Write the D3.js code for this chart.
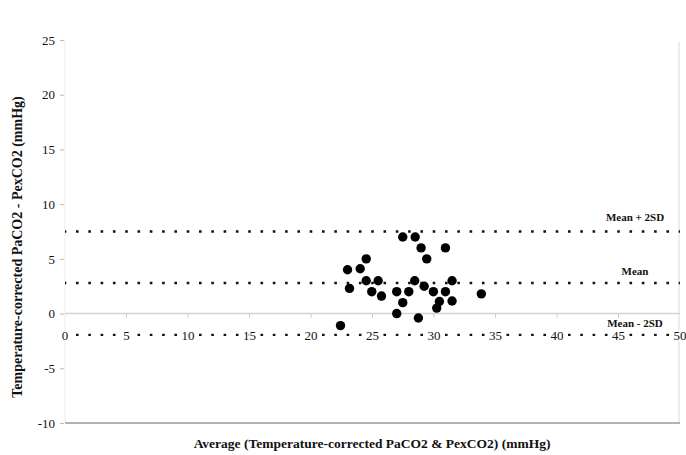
<!DOCTYPE html>
<html>
<head>
<meta charset="utf-8">
<script src="https://cdn.jsdelivr.net/npm/d3@7"></script>
<style>
  html, body { margin: 0; padding: 0; background: #fff; }
  svg { display: block; }
  text { font-family: "Liberation Serif", "Times New Roman", serif; fill: #111; }
</style>
</head>
<body>
<svg id="chart" width="686" height="455"></svg>
<script>
// Bland-Altman data: average of the two methods vs. their difference (mmHg)
const averages = [27.46, 28.47, 28.95, 30.93, 29.41, 24.49, 22.97, 24.0, 24.49, 25.46,
                  23.13, 24.94, 25.73, 26.97, 27.95, 28.43, 29.2, 29.95, 30.93, 31.47,
                  27.46, 30.44, 30.22, 31.47, 26.97, 28.73, 33.85, 22.4];
const differences = [7.0, 7.0, 6.0, 6.0, 5.0, 5.0, 4.0, 4.1, 3.0, 3.0,
                     2.3, 2.0, 1.6, 2.0, 2.0, 3.0, 2.5, 2.0, 2.0, 3.0,
                     1.0, 1.1, 0.5, 1.15, 0.0, -0.4, 1.8, -1.1];

// Limits of agreement
const limitNames = ["Mean + 2SD", "Mean", "Mean - 2SD"];
const limitValues = [7.5, 2.8, -1.95];

const xTicks = [0, 5, 10, 15, 20, 25, 30, 35, 40, 45, 50];
const yTicks = [-10, -5, 0, 5, 10, 15, 20, 25];

const xTitle = "Average (Temperature-corrected PaCO2 & PexCO2) (mmHg)";
const yTitle = "Temperature-corrected PaCO2 - PexCO2 (mmHg)";

const svg = d3.select("#chart");
const plotLeft = 65, plotRight = 680, plotTop = 40, plotBottom = 423;

const x = d3.scaleLinear().domain([0, 50]).range([plotLeft, plotRight]);
const y = d3.scaleLinear().domain([-10, 25]).range([plotBottom, plotTop]);

// faint frame sides
svg.append("line").attr("x1", plotLeft).attr("x2", plotLeft).attr("y1", y(25)).attr("y2", plotBottom)
  .attr("stroke", "#ececec").attr("stroke-width", 1);
svg.append("line").attr("x1", plotRight - 1).attr("x2", plotRight - 1).attr("y1", y(25) + 2).attr("y2", plotBottom)
  .attr("stroke", "#e6e6e6").attr("stroke-width", 1.5);

// bottom edge at -10
svg.append("line").attr("x1", plotLeft).attr("x2", plotRight).attr("y1", plotBottom).attr("y2", plotBottom)
  .attr("stroke", "#9a9a9a").attr("stroke-width", 1.5);

// y axis ticks and labels
const yAxis = d3.axisLeft(y).tickValues(yTicks).tickSize(4).tickPadding(5).tickFormat(d => String(d));
const gy = svg.append("g").attr("transform", `translate(${plotLeft - 1},0)`).call(yAxis);
gy.select(".domain").remove();
gy.selectAll(".tick line").attr("stroke", "#bbb");
gy.selectAll(".tick text").attr("font-size", 13).style("font-family", "'Liberation Serif', serif").attr("fill", "#1a1a1a");

// zero line with downward ticks
svg.append("line").attr("x1", plotLeft).attr("x2", plotRight).attr("y1", y(0)).attr("y2", y(0))
  .attr("stroke", "#d2d2d2").attr("stroke-width", 1.5);
svg.append("g").selectAll("line").data(xTicks.slice(1, -1)).join("line")
  .attr("x1", d => x(d)).attr("x2", d => x(d))
  .attr("y1", y(0)).attr("y2", y(0) + 4)
  .attr("stroke", "#c8c8c8").attr("stroke-width", 1);

// limit lines (dots fall on whole x units)
const period = x(1) - x(0);
const dotLen = 2.6;
svg.append("g").selectAll("line").data(limitValues).join("line")
  .attr("x1", plotLeft).attr("x2", plotRight)
  .attr("y1", d => y(d)).attr("y2", d => y(d))
  .attr("stroke", "#111").attr("stroke-width", 2.4)
  .attr("stroke-dasharray", `${dotLen},${period - dotLen}`)
  .attr("stroke-dashoffset", dotLen / 2);

// x tick labels sit on the lower limit line
svg.append("g").selectAll("text").data(xTicks).join("text")
  .attr("x", d => x(d)).attr("y", y(limitValues[2]) + 0.5)
  .attr("text-anchor", "middle").attr("dominant-baseline", "central")
  .attr("font-size", 13).attr("fill", "#1a1a1a")
  .attr("stroke", "#fff").attr("stroke-width", 3).attr("paint-order", "stroke")
  .text(d => d);

// limit labels
const labelPos = [[635, 217], [635, 271], [635, 323]];
svg.append("g").selectAll("text").data(limitNames).join("text")
  .attr("x", (d, i) => labelPos[i][0]).attr("y", (d, i) => labelPos[i][1])
  .attr("text-anchor", "middle").attr("dominant-baseline", "central")
  .attr("font-size", 11).attr("font-weight", "bold")
  .attr("stroke", "#fff").attr("stroke-width", 3).attr("paint-order", "stroke")
  .text(d => d);

// data points
svg.append("g").selectAll("circle").data(averages).join("circle")
  .attr("cx", d => x(d)).attr("cy", (d, i) => y(differences[i]))
  .attr("r", 4.7).attr("fill", "#000");

// axis titles
svg.append("text").attr("x", 372).attr("y", 443)
  .attr("text-anchor", "middle").attr("dominant-baseline", "central")
  .attr("font-size", 13.5).attr("font-weight", "bold").text(xTitle);
svg.append("text").attr("transform", "translate(17,247) rotate(-90)")
  .attr("text-anchor", "middle").attr("dominant-baseline", "central")
  .attr("font-size", 14).attr("font-weight", "bold").text(yTitle);
</script>
</body>
</html>
